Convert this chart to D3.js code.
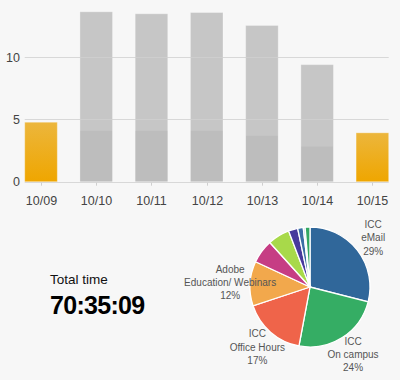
<!DOCTYPE html>
<html>
<head>
<meta charset="utf-8">
<script src="https://cdn.jsdelivr.net/npm/d3@7/dist/d3.min.js"></script>
<style>
  html, body { margin: 0; padding: 0; background: #f7f7f7; }
  svg { display: block; font-family: "Liberation Sans", Arial, sans-serif; }
</style>
</head>
<body>
<div id="chart"></div>
<script>
// daily hours
const dates = ['10/09', '10/10', '10/11', '10/12', '10/13', '10/14', '10/15'];
const totalHours = [4.78, 13.66, 13.5, 13.6, 12.56, 9.41, 3.93];
const baseHours = [0, 4.09, 4.09, 4.09, 3.69, 2.82, 0];
const highlightDates = ['10/09', '10/15'];
const yTicks = [0, 5, 10];

// share of time by activity
const activities = ['ICC|eMail', 'ICC|On campus', 'ICC|Office Hours', 'Adobe|Education/ Webinars', 'other 1', 'other 2', 'other 3', 'other 4', 'other 5', 'other 6'];
const shares = [29, 24, 17, 12, 6.4, 5.9, 2.5, 1.5, 0.5, 1.3];
const activityColors = ['#30679a', '#35ad64', '#ef644a', '#f2a84c', '#c63d84', '#a8d94a', '#473a9c', '#3b6fa5', '#a9c9e6', '#33a862'];

const totalLabel = 'Total time';
const totalValue = '70:35:09';

const W = 400, H = 380;
const svg = d3.select('#chart').append('svg').attr('width', W).attr('height', H);
svg.append('rect').attr('width', W).attr('height', H).attr('fill', '#f7f7f7');

const defs = svg.append('defs');
const grad = defs.append('linearGradient').attr('id', 'orange').attr('x1', 0).attr('y1', 0).attr('x2', 0).attr('y2', 1);
grad.append('stop').attr('offset', '0%').attr('stop-color', '#ecb63c');
grad.append('stop').attr('offset', '100%').attr('stop-color', '#efa600');

const x = d3.scaleBand().domain(dates).range([13.4, 400]).paddingInner(0.41).paddingOuter(0.205);
const y = d3.scaleLinear().domain([0, 14]).range([181.7, 181.7 - 14 * 12.44]);

const bars = dates.map((d, i) => ({ date: d, total: totalHours[i], base: baseHours[i] }));

const g = svg.append('g');

// bars: full bar with a light edge, darker lower part drawn inside it
bars.forEach(b => {
  const hl = highlightDates.includes(b.date);
  g.append('rect').attr('x', x(b.date)).attr('width', x.bandwidth())
    .attr('y', y(b.total)).attr('height', y(0) - y(b.total))
    .attr('fill', hl ? 'url(#orange)' : '#c6c6c6')
    .attr('stroke', 'rgba(255,255,255,0.3)').attr('stroke-width', 1);
  if (!hl && b.base > 0) {
    g.append('rect').attr('x', x(b.date) + 0.5).attr('width', x.bandwidth() - 1)
      .attr('y', y(b.base)).attr('height', y(0) - y(b.base) - 0.5)
      .attr('fill', '#bdbdbd');
  }
});

// grid on top, slightly see-through
const gx0 = x(dates[0]), gx1 = x(dates[dates.length - 1]) + x.bandwidth();
g.selectAll('.grid').data(yTicks).join('line')
  .attr('x1', gx0).attr('x2', gx1)
  .attr('y1', d => Math.round(y(d)) + 0.5).attr('y2', d => Math.round(y(d)) + 0.5)
  .attr('stroke', '#cfcfcf').attr('stroke-opacity', 0.8);

// y labels
g.selectAll('.ylab').data(yTicks).join('text')
  .attr('x', 20).attr('y', d => y(d)).attr('dy', '0.36em')
  .attr('text-anchor', 'end').style('font-size', '12.5px').style('fill', '#444')
  .text(d => d);

// x ticks + labels
const xa = g.selectAll('.xt').data(dates).join('g')
  .attr('transform', d => `translate(${Math.round(x(d) + x.bandwidth() / 2) + 0.5},0)`);
xa.append('line').attr('y1', y(0) + 1).attr('y2', y(0) + 4).attr('stroke', '#cfcfcf');
xa.append('text').attr('y', 205).attr('text-anchor', 'middle')
  .style('font-size', '12.5px').style('fill', '#444').text(d => d);

// total time
svg.append('text').attr('x', 50).attr('y', 283.5).style('font-size', '13.5px').style('fill', '#111').text(totalLabel);
svg.append('text').attr('x', 50).attr('y', 314).style('font-size', '25px').style('font-weight', 'bold')
  .style('letter-spacing', '-0.7px').style('fill', '#000').text(totalValue);

// pie
const cx = 310, cy = 287, r = 60;
const pieData = activities.map((a, i) => ({ name: a, value: shares[i], color: activityColors[i] }));
const sum = d3.sum(shares);
const pie = d3.pie().value(d => d.value).sort(null);
const arc = d3.arc().innerRadius(0).outerRadius(r);
const labelArc = d3.arc().innerRadius(80).outerRadius(80);

const pg = svg.append('g').attr('transform', `translate(${cx},${cy})`);
const arcs = pie(pieData);
pg.selectAll('path').data(arcs).join('path')
  .attr('d', arc).attr('fill', d => d.data.color)
  .attr('stroke', '#fff').attr('stroke-width', 1.3);

const lbl = pg.selectAll('.plab').data(arcs.filter(d => d.data.value >= 10)).join('text')
  .attr('transform', d => `translate(${labelArc.centroid(d)})`)
  .attr('text-anchor', 'middle').style('font-size', '10px').style('fill', '#555');
lbl.each(function (d) {
  const lines = d.data.name.split('|').concat([Math.round(d.data.value / sum * 100) + '%']);
  const t = d3.select(this);
  lines.forEach((s, i) => {
    t.append('tspan').attr('x', 0).attr('y', 3.5 + (i - 1) * 13.3).text(s);
  });
});
</script>
</body>
</html>
